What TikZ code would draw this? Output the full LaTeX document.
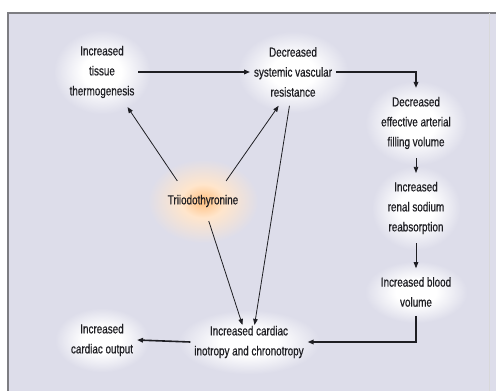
\documentclass[tikz,border=0pt]{standalone}
\usepackage{fontspec}
\setmainfont{Liberation Sans}[FakeStretch=0.76,FakeBold=0.6]
\usetikzlibrary{positioning,arrows.meta}

\definecolor{panel}{RGB}{221,221,234}
\definecolor{rim}{RGB}{125,125,130}
\definecolor{ink}{RGB}{30,30,35}
% soft halos behind the labels (the middle 50bp square fills the node)
\pgfdeclareradialshading{whiteglow}{\pgfpoint{0bp}{0bp}}{%
  color(0bp)=(white); color(10bp)=(white); color(25bp)=(panel); color(50bp)=(panel)}
\pgfdeclareradialshading{hormoneglow}{\pgfpoint{0bp}{0bp}}{%
  color(0bp)=(orange!50!white); color(10bp)=(orange!20!white); color(25bp)=(panel); color(50bp)=(panel)}

\begin{document}
\begin{tikzpicture}[x=1pt,y=-1pt,
  every node/.style={align=center,text=ink,font=\fontsize{13}{20}\selectfont},
  effect/.style={shading=whiteglow,inner xsep=16pt,inner ysep=16pt,
    outer xsep=-12pt,outer ysep=-7pt},
  hormone/.style={shading=hormoneglow,inner xsep=20pt,inner ysep=36pt,
    outer xsep=-19pt,outer ysep=-22pt},
  arr/.style={draw=ink,line width=0.8pt,-{Triangle[length=6pt,width=4.5pt]}},
  link/.style={arr,line width=1.6pt}]
\useasboundingbox (0,0) rectangle (496,391);
\fill[white] (0,0) rectangle (496,391);
% panel behind the chart
\fill[panel] (8,13) rectangle (496,391);
\draw[rim,line width=2pt] (8,391) -- (8,13) -- (496,13);
\draw[rim!30,line width=1pt] (489,13) -- (489,391);

\node[effect] (thermo) at (102,72) {Increased\\tissue\\thermogenesis};
\node[effect] (svr) at (293,72) {Decreased\\systemic vascular\\resistance};
\node[effect] (eafv) at (416,123) {Decreased\\effective arterial\\filling volume};
\node[effect,on grid,below=85pt of eafv] (renal) {Increased\\renal sodium\\reabsorption};
\node[effect,on grid,below=84pt of renal] (blood) {Increased blood\\volume};
\node[hormone] (t3) at (203,201) {Triiodothyronine};
\node[effect,outer ysep=-15pt] (cardiac) at (249,342) {Increased cardiac\\inotropy and chronotropy};
\node[effect] (output) at (102,340) {Increased\\cardiac output};

\draw[link] (thermo.east) -- (svr.west);
\draw[link] (svr.east) -| (eafv.north);
\draw[arr] (eafv.south) -- (renal.north);
\draw[arr] (renal.south) -- (blood.north);
\draw[link] (blood.south) |- (cardiac.east);
\draw[link] (cardiac.west) -- (output.east);

\draw[arr] (t3.142) -- (thermo.-54);
\draw[arr] (t3.41) -- (svr.-113);
\draw[arr] (t3.-74) -- (cardiac.111);
\draw[arr] (svr.-96) -- (cardiac.72);
\end{tikzpicture}
\end{document}
